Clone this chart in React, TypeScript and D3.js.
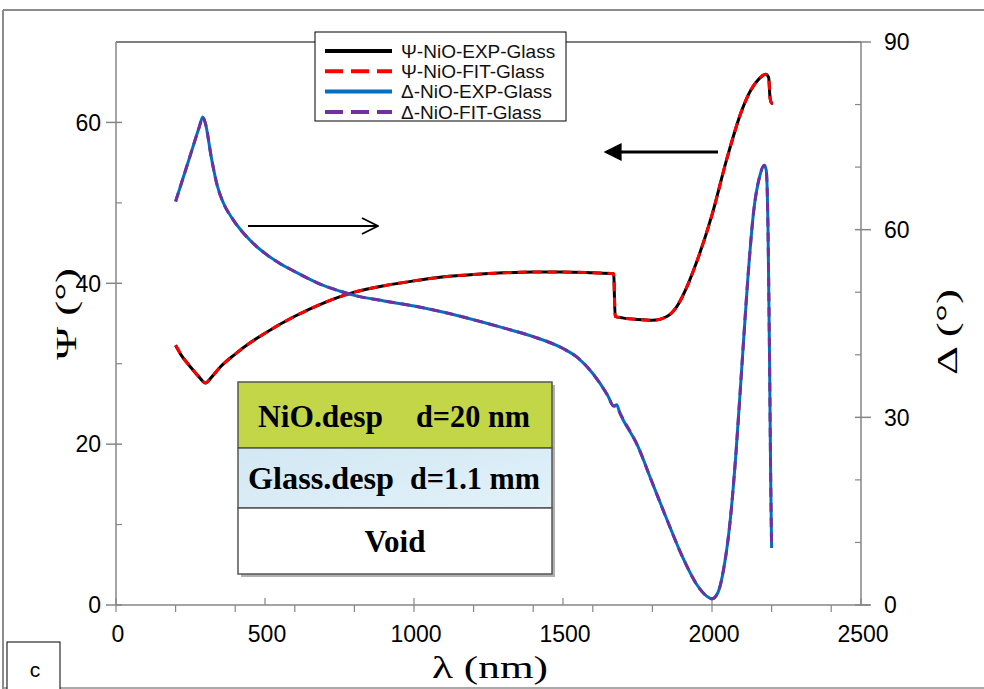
import React from "react";
import * as d3 from "d3";

// Ψ (left axis), wavelength in nm
const psiLambda = [200, 220, 250, 280, 300, 320, 350, 400, 450, 500, 600, 700, 750, 800, 900, 1000, 1100, 1200, 1300, 1400, 1500, 1600, 1670, 1675, 1700, 1750, 1800, 1850, 1880, 1900, 1950, 2000, 2050, 2100, 2130, 2160, 2180, 2190, 2195, 2200, 2205];
const psiExp = [32.3, 31.0, 29.6, 28.3, 27.6, 28.3, 29.6, 31.2, 32.6, 33.8, 35.9, 37.6, 38.3, 38.9, 39.7, 40.3, 40.8, 41.1, 41.3, 41.4, 41.4, 41.3, 41.2, 35.9, 35.7, 35.5, 35.4, 35.9, 37.0, 38.3, 42.8, 48.5, 55.5, 61.5, 64.0, 65.5, 66.0, 65.6, 63.0, 62.4, 62.4];
const psiFit = [32.3, 31.0, 29.6, 28.3, 27.6, 28.3, 29.6, 31.2, 32.6, 33.8, 35.9, 37.6, 38.3, 38.9, 39.7, 40.3, 40.8, 41.1, 41.3, 41.4, 41.4, 41.3, 41.2, 35.9, 35.7, 35.5, 35.4, 35.9, 37.0, 38.3, 42.8, 48.5, 55.5, 61.5, 64.0, 65.5, 66.0, 65.6, 63.0, 62.4, 62.4];

// Δ (right axis)
const delLambda = [200, 220, 250, 280, 291, 300, 320, 340, 360, 390, 450, 500, 550, 600, 700, 750, 800, 900, 1000, 1100, 1200, 1300, 1400, 1500, 1550, 1600, 1650, 1670, 1680, 1690, 1750, 1800, 1850, 1900, 1950, 1980, 2000, 2020, 2040, 2060, 2080, 2100, 2120, 2140, 2160, 2175, 2182, 2188, 2193, 2197, 2200];
const delExp = [64.5, 67.5, 72.0, 76.5, 78.0, 77.0, 71.5, 67.0, 64.3, 61.8, 58.3, 56.2, 54.6, 53.3, 51.0, 50.2, 49.5, 48.6, 47.8, 46.8, 45.6, 44.3, 42.9, 41.0, 39.5, 37.0, 33.5, 31.8, 32.0, 30.8, 25.5, 19.5, 13.5, 7.8, 3.2, 1.5, 1.0, 2.0, 6.0, 13.0, 24.0, 38.0, 52.0, 63.0, 68.5, 70.3, 69.5, 60.0, 40.0, 20.0, 9.1];
const delFit = [64.5, 67.5, 72.0, 76.5, 78.0, 77.0, 71.5, 67.0, 64.3, 61.8, 58.3, 56.2, 54.6, 53.3, 51.0, 50.2, 49.5, 48.6, 47.8, 46.8, 45.6, 44.3, 42.9, 41.0, 39.5, 37.0, 33.5, 31.8, 31.8, 30.8, 25.5, 19.5, 13.5, 7.8, 3.2, 1.5, 1.0, 2.0, 6.0, 13.0, 24.0, 38.0, 52.0, 63.0, 68.5, 70.3, 69.5, 60.0, 40.0, 20.0, 9.1];

const xTicks = [0, 500, 1000, 1500, 2000, 2500];
const xMinorTicks = [0, 200, 400, 600, 800, 1000, 1200, 1400, 1600, 1800, 2000, 2200, 2400];
const yLeftTicks = [0, 20, 40, 60];
const yLeftMinor = [10, 30, 50];
const yRightTicks = [0, 30, 60, 90];
const yRightMinor = [10, 20, 40, 50, 70, 80];

const legendLabels = ["Ψ-NiO-EXP-Glass", "Ψ-NiO-FIT-Glass", "Δ-NiO-EXP-Glass", "Δ-NiO-FIT-Glass"];
const legendColors = ["#000000", "#ff0000", "#0070c0", "#7030a0"];
const legendDashed = [false, true, false, true];

const layerNames = ["NiO.desp", "Glass.desp", "Void"];
const layerThick = ["d=20 nm", "d=1.1 mm", ""];

export default function App() {
  const x = d3.scaleLinear().domain([0, 2500]).range([116, 861]);
  const yL = d3.scaleLinear().domain([0, 70]).range([605, 42]);
  const yR = d3.scaleLinear().domain([0, 90]).range([605, 42]);

  const lineL = d3.line<[number, number]>().x(d => x(d[0])).y(d => yL(d[1])).curve(d3.curveMonotoneX);
  const lineR = d3.line<[number, number]>().x(d => x(d[0])).y(d => yR(d[1])).curve(d3.curveMonotoneX);

  const psiE = psiLambda.map((l, i) => [l, psiExp[i]] as [number, number]);
  const psiF = psiLambda.map((l, i) => [l, psiFit[i]] as [number, number]);
  const delE = delLambda.map((l, i) => [l, delExp[i]] as [number, number]);
  const delF = delLambda.map((l, i) => [l, delFit[i]] as [number, number]);

  const axisColor = "#868686";
  const sans = "Liberation Sans, Arial, sans-serif";
  const serif = "Liberation Serif, Times New Roman, serif";

  const boxX = 238, boxW = 314;
  const rows = [
    { y: 382, h: 66, fill: "#c3d647" },
    { y: 448, h: 60, fill: "url(#glassGrad)" },
    { y: 508, h: 66, fill: "#ffffff" },
  ];

  return (
    <svg width={984} height={689} style={{ position: "absolute", left: 0, top: 0, background: "#fff" }}>
      <defs>
        <linearGradient id="glassGrad" x1="0" y1="0" x2="1" y2="1">
          <stop offset="0" stopColor="#d2e8f4" />
          <stop offset="1" stopColor="#e2f1f8" />
        </linearGradient>
        <marker id="headFill" viewBox="0 0 10 10" refX="2" refY="5" markerWidth="6" markerHeight="6" orient="auto-start-reverse">
          <path d="M0,0 L10,5 L0,10 z" fill="#000" />
        </marker>
        <marker id="headOpen" viewBox="0 0 18 18" refX="17" refY="9" markerWidth="18" markerHeight="18" markerUnits="userSpaceOnUse" orient="auto">
          <path d="M1,1 L17,9 L1,17" fill="none" stroke="#000" strokeWidth="1.8" />
        </marker>
      </defs>

      {/* outer frame */}
      <line x1={3} y1={10} x2={984} y2={10} stroke="#8c8c8c" strokeWidth={2} />
      <line x1={3} y1={10} x2={3} y2={689} stroke="#8c8c8c" strokeWidth={2} />
      <line x1={3} y1={688} x2={984} y2={688} stroke="#8c8c8c" strokeWidth={1.5} />

      {/* plot top border */}
      <line x1={116} y1={42} x2={861} y2={42} stroke="#000" strokeWidth={1} />

      {/* axes */}
      <line x1={116} y1={42} x2={116} y2={605} stroke={axisColor} strokeWidth={1.5} />
      <line x1={861} y1={42} x2={861} y2={605} stroke={axisColor} strokeWidth={1.5} />
      <line x1={116} y1={605} x2={870} y2={605} stroke={axisColor} strokeWidth={1.5} />

      {yLeftTicks.map(t => (
        <g key={"yl" + t}>
          <line x1={106} x2={122} y1={yL(t)} y2={yL(t)} stroke={axisColor} strokeWidth={1.5} />
          <text x={101} y={yL(t)} dy="0.36em" textAnchor="end" fontFamily={sans} fontSize={23}>{t}</text>
        </g>
      ))}
      {yLeftMinor.map(t => (
        <line key={"ylm" + t} x1={116} x2={122} y1={yL(t)} y2={yL(t)} stroke={axisColor} strokeWidth={1.2} />
      ))}
      {yRightTicks.map(t => (
        <g key={"yr" + t}>
          <line x1={855} x2={871} y1={yR(t)} y2={yR(t)} stroke={axisColor} strokeWidth={1.5} />
          <text x={884} y={yR(t)} dy="0.36em" textAnchor="start" fontFamily={sans} fontSize={23}>{t}</text>
        </g>
      ))}
      {yRightMinor.map(t => (
        <line key={"yrm" + t} x1={855} x2={861} y1={yR(t)} y2={yR(t)} stroke={axisColor} strokeWidth={1.2} />
      ))}
      {xMinorTicks.map(t => (
        <line key={"xm" + t} x1={x(t)} x2={x(t)} y1={605} y2={612} stroke={axisColor} strokeWidth={1.2} />
      ))}
      {xTicks.map(t => (
        <g key={"x" + t}>
          <line x1={x(t)} x2={x(t)} y1={598} y2={605} stroke={axisColor} strokeWidth={1.2} />
          <text x={x(t) + 2} y={634} dy="0.36em" textAnchor="middle" fontFamily={sans} fontSize={23}>{t}</text>
        </g>
      ))}

      {/* axis titles */}
      <text transform="translate(76,314) rotate(-90)" textAnchor="middle" fontFamily={serif} fontSize={30} textLength={92} lengthAdjust="spacingAndGlyphs">Ψ (°)</text>
      <text x={490} y={678} textAnchor="middle" fontFamily={serif} fontSize={31} textLength={116} lengthAdjust="spacingAndGlyphs">λ (nm)</text>
      <text transform="translate(957,332) rotate(-90)" textAnchor="middle" fontFamily={serif} fontSize={30} textLength={86} lengthAdjust="spacingAndGlyphs">Δ (°)</text>

      {/* curves */}
      <path d={lineL(psiE) || ""} fill="none" stroke="#000" strokeWidth={3} />
      <path d={lineL(psiF) || ""} fill="none" stroke="#ff0000" strokeWidth={3} strokeDasharray="9 6" />
      <path d={lineR(delE) || ""} fill="none" stroke="#0070c0" strokeWidth={3} />
      <path d={lineR(delF) || ""} fill="none" stroke="#7030a0" strokeWidth={3} strokeDasharray="9 6" />

      {/* arrows */}
      <line x1={718} y1={152} x2={618} y2={152} stroke="#000" strokeWidth={3} markerEnd="url(#headFill)" />
      <line x1={248} y1={226} x2={378} y2={226} stroke="#000" strokeWidth={2} markerEnd="url(#headOpen)" />

      {/* legend */}
      <rect x={315} y={32} width={251} height={89} fill="#fff" stroke="#000" strokeWidth={1} />
      {legendLabels.map((lab, i) => {
        const yy = 51 + i * 20.3;
        return (
          <g key={lab}>
            <line x1={325} x2={392} y1={yy} y2={yy} stroke={legendColors[i]} strokeWidth={4}
              strokeDasharray={legendDashed[i] ? "18 8" : undefined} />
            <text x={401} y={yy} dy="0.36em" fontFamily={sans} fontSize={19} fill="#111">{lab}</text>
          </g>
        );
      })}

      {/* layer stack */}
      <rect x={boxX + 3} y={385} width={boxW} height={192} fill="#b0b0b0" />
      {rows.map((r, i) => (
        <rect key={"row" + i} x={boxX} y={r.y} width={boxW} height={r.h} fill={r.fill} stroke="#555" strokeWidth={1.5} />
      ))}
      <text x={258} y={416} dy="0.35em" fontFamily={serif} fontSize={31} fontWeight="bold" textLength={125} lengthAdjust="spacingAndGlyphs">{layerNames[0]}</text>
      <text x={416} y={416} dy="0.35em" fontFamily={serif} fontSize={31} fontWeight="bold" textLength={114} lengthAdjust="spacingAndGlyphs">{layerThick[0]}</text>
      <text x={248} y={478} dy="0.35em" fontFamily={serif} fontSize={31} fontWeight="bold" textLength={146} lengthAdjust="spacingAndGlyphs">{layerNames[1]}</text>
      <text x={410} y={478} dy="0.35em" fontFamily={serif} fontSize={31} fontWeight="bold" textLength={130} lengthAdjust="spacingAndGlyphs">{layerThick[1]}</text>
      <text x={395} y={541} dy="0.35em" textAnchor="middle" fontFamily={serif} fontSize={31} fontWeight="bold">{layerNames[2]}</text>

      {/* panel label */}
      <rect x={7} y={642} width={53} height={50} fill="#fff" stroke="#000" strokeWidth={1} />
      <text x={35} y={677} textAnchor="middle" fontFamily={sans} fontSize={21}>c</text>
    </svg>
  );
}
